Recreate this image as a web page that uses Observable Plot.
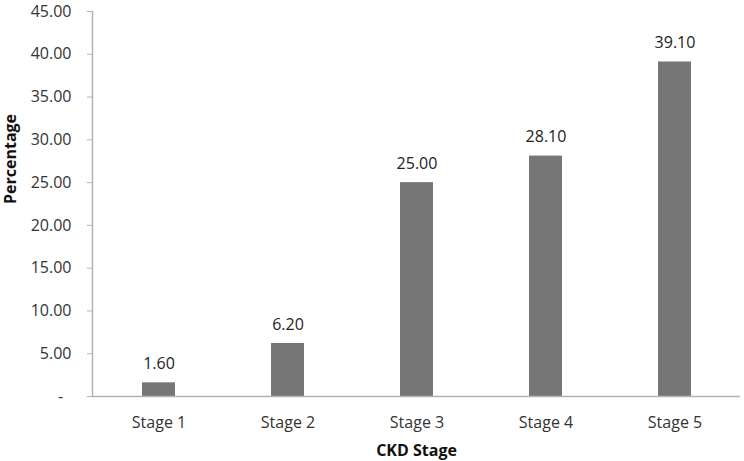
<!DOCTYPE html>
<html>
<head>
<meta charset="utf-8">
<script src="https://cdn.jsdelivr.net/npm/d3@7"></script>
<script src="https://cdn.jsdelivr.net/npm/@observablehq/plot@0.6"></script>
<style>
  body { margin: 0; background: #fff; }
  #chart svg { font-family: "Open Sans", sans-serif; }
</style>
</head>
<body>
<div id="chart"></div>
<script>
const stages = ["Stage 1", "Stage 2", "Stage 3", "Stage 4", "Stage 5"];
const percentages = [1.60, 6.20, 25.00, 28.10, 39.10];
const yTicks = [0, 5, 10, 15, 20, 25, 30, 35, 40, 45];

const data = stages.map((s, i) => ({stage: s, value: percentages[i]}));

const chart = Plot.plot({
  width: 744,
  height: 461,
  marginLeft: 92,
  marginRight: 4,
  marginTop: 11,
  marginBottom: 65,
  style: {fontSize: "16px", color: "#333", background: "#fff"},
  x: {domain: stages, paddingInner: 0.745, paddingOuter: 0.3725, align: 0.5, label: null},
  y: {domain: [0, 45], label: null},
  marks: [
    Plot.barY(data, {x: "stage", y: "value", fill: "#767676"}),
    Plot.ruleY([0], {stroke: "#b3b3b3", strokeWidth: 1.5}),
    Plot.frame({anchor: "left", stroke: "#b3b3b3", strokeWidth: 1.5}),
    Plot.axisY({ticks: yTicks, tickSize: 5, tickPadding: 16, stroke: "#b3b3b3",
      tickFormat: d => d === 0 ? "-\u00a0\u00a0" : d.toFixed(2), fontSize: 16, fill: "#333"}),
    Plot.axisX({tickSize: 0, tickPadding: 20, fontSize: 16, fill: "#333"}),
    Plot.text(data, {x: "stage", y: "value", text: d => d.value.toFixed(2), dy: -19, fontSize: 16, fill: "#222"}),
    Plot.text(["CKD Stage"], {frameAnchor: "bottom", dy: 59, fontWeight: "bold", fontSize: 16, fill: "#111"}),
    Plot.text(["Percentage"], {frameAnchor: "left", dx: -82, rotate: -90, fontWeight: "bold", fontSize: 16, fill: "#111"})
  ]
});
document.getElementById("chart").appendChild(chart);
</script>
</body>
</html>
